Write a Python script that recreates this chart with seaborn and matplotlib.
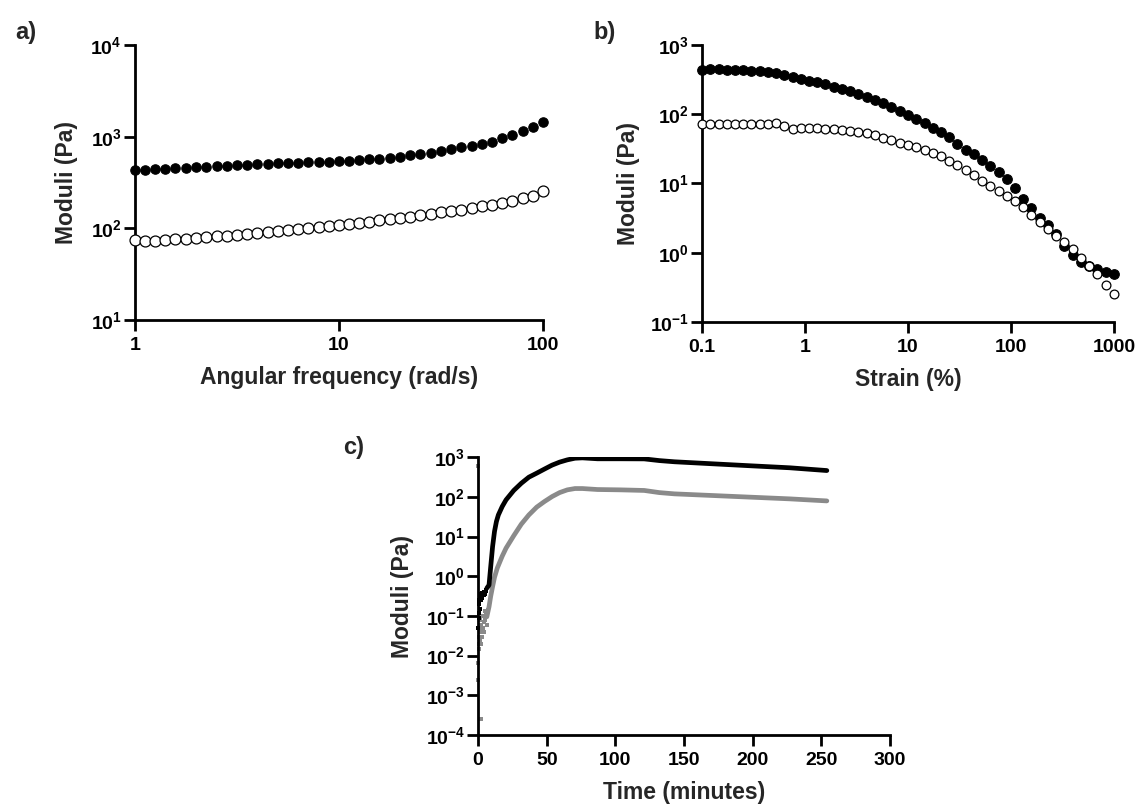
import numpy as np
import pandas as pd
import matplotlib
matplotlib.use("Agg")
import matplotlib.pyplot as plt
import matplotlib.ticker as mticker
import seaborn as sns

# ---------------- data ----------------
# a) frequency sweep
freq = [1.00, 1.12, 1.26, 1.41, 1.58, 1.78, 2.00, 2.24, 2.51, 2.82, 3.16, 3.55, 3.98,
        4.47, 5.01, 5.62, 6.31, 7.08, 7.94, 8.91, 10.0, 11.2, 12.6, 14.1, 15.8, 17.8,
        20.0, 22.4, 25.1, 28.2, 31.6, 35.5, 39.8, 44.7, 50.1, 56.2, 63.1, 70.8, 79.4,
        89.1, 100.0]
g1_freq = [430, 438, 441, 448, 453, 461, 468, 472, 480, 484, 492, 497, 505, 509, 514,
           518, 522, 527, 531, 536, 541, 550, 559, 568, 578, 593, 608, 624, 640, 670,
           702, 731, 763, 796, 837, 881, 959, 1051, 1153, 1288, 1462]
g2_freq = [74.5, 73.2, 73.2, 74.5, 75.7, 76.9, 78.3, 79.6, 81.6, 83.0, 85.1, 86.6, 88.8,
           91.1, 93.5, 95.9, 98.4, 101, 104, 106, 109, 112, 115, 118, 122, 127, 130,
           134, 139, 144, 149, 155, 160, 167, 174, 182, 190, 201, 212, 228, 255]

# b) amplitude sweep
strain = [0.100, 0.120, 0.145, 0.174, 0.209, 0.251, 0.302, 0.363, 0.437, 0.525, 0.631,
          0.759, 0.912, 1.10, 1.32, 1.58, 1.91, 2.29, 2.75, 3.31, 3.98, 4.79, 5.75,
          6.92, 8.32, 10.0, 12.0, 14.5, 17.4, 20.9, 25.1, 30.2, 36.3, 43.7, 52.5,
          63.1, 75.9, 91.2, 110, 132, 158, 191, 229, 275, 331, 398, 479, 575, 692,
          832, 1000]
g1_strain = [437, 447, 447, 442, 437, 432, 427, 418, 408, 391, 366, 339, 320, 306, 287,
             269, 249, 230, 213, 193, 176, 160, 143, 127, 112, 98, 86, 74.4, 63.8, 54.6,
             46.3, 37.1, 30.7, 26.6, 22.1, 18.1, 14.7, 11.6, 8.62, 6.06, 4.44, 3.19,
             2.50, 1.84, 1.25, 0.915, 0.741, 0.642, 0.574, 0.526, 0.492]
g2_strain = [72.8, 72.8, 72.8, 72.8, 72.8, 72.8, 72.8, 72.8, 72.8, 73.6, 68.1, 61.6,
             62.3, 63.1, 62.3, 61.6, 60.9, 59.7, 57.7, 55.2, 52.8, 49.4, 45.8, 41.9,
             38.4, 35.5, 33.2, 30.7, 27.8, 24.7, 21.3, 18.3, 15.5, 13.1, 11.0, 9.31,
             7.89, 6.68, 5.54, 4.54, 3.56, 2.76, 2.21, 1.77, 1.42, 1.12, 0.847, 0.642,
             0.486, 0.342, 0.251]

# c) time sweep
time_g1 = [6.4, 8.0, 9.2, 10.6, 12.0, 13.4, 14.8, 17.6, 20.4, 26.0, 31.5, 37.0, 42.7,
           48.3, 53.9, 59.4, 65.0, 70.6, 76.0, 87.0, 104, 121, 132, 143, 171, 199, 227, 254]
g1_time = [0.50, 0.60, 1.7, 5.6, 13.5, 24, 35, 57, 84, 145, 220, 313, 395, 500, 630,
           750, 855, 940, 960, 910, 910, 905, 820, 765, 680, 605, 540, 460]
time_g2 = [6.4, 8.0, 9.2, 10.6, 12.0, 14.0, 17.6, 20.4, 26.0, 31.5, 37.0, 42.7, 48.3,
           54.0, 59.4, 65.0, 70.6, 76.0, 87.0, 104, 121, 132, 143, 171, 199, 227, 254]
g2_time = [0.095, 0.17, 0.31, 0.55, 0.94, 1.6, 3.2, 5.1, 10.5, 20.5, 35, 55, 76, 102,
           128, 150, 162, 162, 153, 150, 145, 128, 119, 108, 98, 89, 79]
# early, noisy readings
t_early_g1 = [0.3, 0.5, 0.8, 1.0, 1.5, 2.0, 2.5, 3.0, 3.5, 4.0, 4.5, 5.0, 5.5, 6.0,
              0.6, 1.2, 2.2, 3.2, 4.2, 5.2]
v_early_g1 = [0.05, 0.12, 0.20, 0.25, 0.30, 0.35, 0.30, 0.38, 0.35, 0.40, 0.38, 0.40,
              0.42, 0.45, 0.09, 0.15, 0.25, 0.28, 0.33, 0.36]
t_early_g2 = [0.0, 0.3, 0.2, 2.5, 0.5, 1.0, 1.5, 2.0, 2.5, 3.0, 3.5, 4.0, 4.5, 5.0,
              5.5, 6.0, 1.0, 2.0, 3.0, 0.8, 1.2, 4.0, 5.0, 6.5, 7.0]
v_early_g2 = [600, 0.0064, 0.0025, 0.00026, 0.03, 0.02, 0.025, 0.04, 0.06, 0.03, 0.05,
              0.07, 0.10, 0.08, 0.12, 0.10, 0.05, 0.02, 0.10, 0.015, 0.08, 0.04, 0.13,
              0.06, 0.14]

# ---------------- style ----------------
sns.set_style("ticks")
plt.rcParams["font.family"] = ["Liberation Sans", "DejaVu Sans"]
plt.rcParams["font.weight"] = "bold"
plt.rcParams["axes.labelweight"] = "bold"
plt.rcParams["mathtext.fontset"] = "custom"
plt.rcParams["mathtext.rm"] = "Liberation Sans:bold"
plt.rcParams["mathtext.bf"] = "Liberation Sans:bold"
plt.rcParams["mathtext.it"] = "Liberation Sans:bold"

fig = plt.figure(figsize=(11.39, 8.10), dpi=100)
ax_a = fig.add_axes([0.1185, 0.6049, 0.3582, 0.3395])
ax_b = fig.add_axes([0.6163, 0.6025, 0.3617, 0.3420])
ax_c = fig.add_axes([0.4197, 0.0926, 0.3617, 0.3430])

TICK_FS = 14
LABEL_FS = 16.5


def sci_fmt(v, pos):
    e = int(round(np.log10(v)))
    return r"$\mathbf{10^{%d}}$" % e


def style_axes(ax):
    sns.despine(ax=ax)
    for sp in ("left", "bottom"):
        ax.spines[sp].set_linewidth(2.0)
        ax.spines[sp].set_color("black")
    ax.tick_params(axis="both", which="major", length=8, width=2.0, direction="out",
                   labelsize=TICK_FS, colors="black")
    ax.tick_params(axis="x", which="major", pad=4)
    ax.tick_params(axis="y", which="major", pad=1.5)
    ax.tick_params(axis="both", which="minor", length=0)
    for lab in ax.get_xticklabels() + ax.get_yticklabels():
        lab.set_fontweight("bold")


# ---- a ----
sns.scatterplot(x=freq, y=g1_freq, ax=ax_a, color="black", s=46, edgecolor="black",
                linewidth=0.8, clip_on=False, zorder=3)
sns.scatterplot(x=freq, y=g2_freq, ax=ax_a, color="white", s=62, edgecolor="black",
                linewidth=0.9, clip_on=False, zorder=3)
ax_a.set_xscale("log")
ax_a.set_yscale("log")
ax_a.set_xlim(1, 100)
ax_a.set_ylim(10, 1e4)
ax_a.xaxis.set_major_locator(mticker.FixedLocator([1, 10, 100]))
ax_a.xaxis.set_major_formatter(mticker.FixedFormatter(["1", "10", "100"]))
ax_a.xaxis.set_minor_locator(mticker.NullLocator())
ax_a.yaxis.set_major_locator(mticker.FixedLocator([10, 100, 1000, 10000]))
ax_a.yaxis.set_major_formatter(mticker.FuncFormatter(sci_fmt))
ax_a.yaxis.set_minor_locator(mticker.NullLocator())
ax_a.set_xlabel("Angular frequency (rad/s)", fontsize=LABEL_FS, fontweight="bold", labelpad=9)
ax_a.set_ylabel("Moduli (Pa)", fontsize=LABEL_FS, fontweight="bold", labelpad=9)
style_axes(ax_a)

# ---- b ----
sns.scatterplot(x=strain, y=g1_strain, ax=ax_b, color="black", s=48, edgecolor="black",
                linewidth=0.8, clip_on=False, zorder=3)
sns.scatterplot(x=strain, y=g2_strain, ax=ax_b, color="white", s=40, edgecolor="black",
                linewidth=0.9, clip_on=False, zorder=3)
ax_b.set_xscale("log")
ax_b.set_yscale("log")
ax_b.set_xlim(0.1, 1000)
ax_b.set_ylim(0.1, 1000)
ax_b.xaxis.set_major_locator(mticker.FixedLocator([0.1, 1, 10, 100, 1000]))
ax_b.xaxis.set_major_formatter(mticker.FixedFormatter(["0.1", "1", "10", "100", "1000"]))
ax_b.xaxis.set_minor_locator(mticker.NullLocator())
ax_b.yaxis.set_major_locator(mticker.FixedLocator([0.1, 1, 10, 100, 1000]))
ax_b.yaxis.set_major_formatter(mticker.FuncFormatter(sci_fmt))
ax_b.yaxis.set_minor_locator(mticker.NullLocator())
ax_b.set_xlabel("Strain (%)", fontsize=LABEL_FS, fontweight="bold", labelpad=9)
ax_b.set_ylabel("Moduli (Pa)", fontsize=LABEL_FS, fontweight="bold", labelpad=7)
style_axes(ax_b)

# ---- c ----
GRAY = "#8a8a8a"
sns.scatterplot(x=t_early_g2, y=v_early_g2, ax=ax_c, color=GRAY, s=11, edgecolor=GRAY,
                linewidth=0, marker="s", clip_on=False, zorder=2)
sns.scatterplot(x=t_early_g1, y=v_early_g1, ax=ax_c, color="black", s=12, edgecolor="black",
                linewidth=0, marker="s", clip_on=False, zorder=3)
sns.lineplot(x=time_g2, y=g2_time, ax=ax_c, color=GRAY, linewidth=3.4, sort=False,
             estimator=None, zorder=2)
sns.lineplot(x=time_g1, y=g1_time, ax=ax_c, color="black", linewidth=3.4, sort=False,
             estimator=None, zorder=3)
ax_c.set_yscale("log")
ax_c.set_xlim(0, 300)
ax_c.set_ylim(1e-4, 1e3)
ax_c.xaxis.set_major_locator(mticker.FixedLocator([0, 50, 100, 150, 200, 250, 300]))
ax_c.xaxis.set_major_formatter(mticker.FixedFormatter(["0", "50", "100", "150", "200", "250", "300"]))
ax_c.yaxis.set_major_locator(mticker.FixedLocator([1e-4, 1e-3, 1e-2, 1e-1, 1, 10, 100, 1000]))
ax_c.yaxis.set_major_formatter(mticker.FuncFormatter(sci_fmt))
ax_c.yaxis.set_minor_locator(mticker.NullLocator())
ax_c.set_xlabel("Time (minutes)", fontsize=LABEL_FS, fontweight="bold", labelpad=9)
ax_c.set_ylabel("Moduli (Pa)", fontsize=LABEL_FS, fontweight="bold", labelpad=8)
style_axes(ax_c)

# panel letters
fig.text(26 / 1139, 1 - 32 / 810, "a)", fontsize=17, fontweight="bold", ha="center", va="center")
fig.text(605 / 1139, 1 - 33 / 810, "b)", fontsize=17, fontweight="bold", ha="center", va="center")
fig.text(354 / 1139, 1 - 448 / 810, "c)", fontsize=17, fontweight="bold", ha="center", va="center")

fig.savefig("out.png", dpi=100)
